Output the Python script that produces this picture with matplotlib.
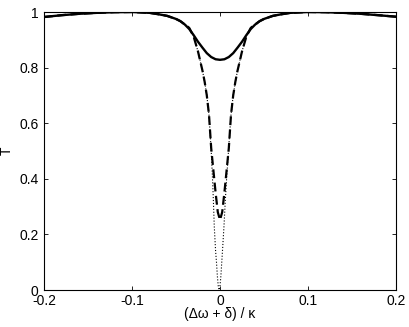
import matplotlib
matplotlib.use("Agg")
import matplotlib.pyplot as plt
from matplotlib.ticker import FormatStrFormatter

# detuning values (units of kappa) and transmission
x_solid = [-0.2, -0.18, -0.16, -0.14, -0.12, -0.10, -0.08, -0.07, -0.06, -0.05,
           -0.045, -0.04, -0.035, -0.03, -0.025, -0.02, -0.015, -0.01, -0.005, 0.0,
           0.005, 0.01, 0.015, 0.02, 0.025, 0.03, 0.035, 0.04, 0.045, 0.05,
           0.06, 0.07, 0.08, 0.10, 0.12, 0.14, 0.16, 0.18, 0.2]
T_solid = [0.982, 0.9885, 0.9935, 0.997, 0.9993, 1.0, 0.997, 0.992, 0.986, 0.975,
           0.967, 0.955, 0.939, 0.917, 0.893, 0.872, 0.852, 0.838, 0.830, 0.828,
           0.830, 0.838, 0.852, 0.872, 0.893, 0.917, 0.939, 0.955, 0.967, 0.975,
           0.986, 0.992, 0.997, 1.0, 0.9993, 0.997, 0.9935, 0.9885, 0.983]

x_dash = [-0.2, -0.18, -0.16, -0.14, -0.12, -0.10, -0.08, -0.07, -0.06, -0.05,
          -0.045, -0.04, -0.035, -0.03, -0.025, -0.02, -0.0175, -0.015, -0.0125,
          -0.01, -0.0075, -0.005, -0.0025, 0.0, 0.0025, 0.005, 0.0075, 0.01,
          0.0125, 0.015, 0.0175, 0.02, 0.025, 0.03, 0.035, 0.04, 0.045, 0.05,
          0.06, 0.07, 0.08, 0.10, 0.12, 0.14, 0.16, 0.18, 0.2]
T_dash = [0.982, 0.9885, 0.9935, 0.997, 0.9993, 1.0, 0.997, 0.992, 0.986, 0.975,
          0.967, 0.955, 0.943, 0.912, 0.858, 0.79, 0.75, 0.70, 0.63,
          0.51, 0.43, 0.35, 0.28, 0.252, 0.28, 0.35, 0.43, 0.51,
          0.63, 0.70, 0.75, 0.79, 0.858, 0.912, 0.943, 0.955, 0.967, 0.975,
          0.986, 0.992, 0.997, 1.0, 0.9993, 0.997, 0.9935, 0.9885, 0.983]

x_dot = [-0.2, -0.18, -0.16, -0.14, -0.12, -0.10, -0.08, -0.07, -0.06, -0.05,
         -0.045, -0.04, -0.035, -0.03, -0.025, -0.02, -0.0175, -0.015, -0.0125,
         -0.01, -0.0085, -0.0075, -0.0065, -0.005, -0.004, -0.003, -0.002, -0.001,
         0.0, 0.001, 0.002, 0.003, 0.0045, 0.006, 0.0075, 0.009, 0.0105,
         0.0125, 0.015, 0.0175, 0.02, 0.025, 0.03, 0.035, 0.04, 0.045, 0.05,
         0.06, 0.07, 0.08, 0.10, 0.12, 0.14, 0.16, 0.18, 0.2]
T_dot = [0.982, 0.9885, 0.9935, 0.997, 0.9993, 1.0, 0.997, 0.992, 0.986, 0.975,
         0.967, 0.955, 0.943, 0.912, 0.858, 0.79, 0.75, 0.70, 0.63,
         0.50, 0.40, 0.32, 0.228, 0.14, 0.10, 0.05, 0.015, 0.0,
         0.015, 0.05, 0.10, 0.15, 0.228, 0.32, 0.40, 0.47, 0.54,
         0.63, 0.70, 0.75, 0.79, 0.858, 0.912, 0.943, 0.955, 0.967, 0.975,
         0.986, 0.992, 0.997, 1.0, 0.9993, 0.997, 0.9935, 0.9885, 0.983]

plt.rcParams['font.family'] = ['Liberation Sans', 'DejaVu Sans']
plt.rcParams['font.size'] = 10

fig = plt.figure(figsize=(4.10, 3.27), dpi=100)
ax = fig.add_axes([44 / 410, 37 / 327, 352 / 410, 278 / 327])

ax.plot(x_dot, T_dot, color='black', linestyle=':', linewidth=0.8)
ax.plot(x_dash, T_dash, color='black', linestyle='--', linewidth=1.6, dashes=(4, 2))
ax.plot(x_solid, T_solid, color='black', linestyle='-', linewidth=1.7)

ax.set_xlim(-0.2, 0.2)
ax.set_ylim(0, 1)
ax.set_xticks([-0.2, -0.1, 0, 0.1, 0.2])
ax.set_yticks([0, 0.2, 0.4, 0.6, 0.8, 1])
ax.xaxis.set_major_formatter(FormatStrFormatter('%g'))
ax.yaxis.set_major_formatter(FormatStrFormatter('%g'))
ax.tick_params(direction='in', top=True, right=True, length=3, width=0.6, pad=4)
ax.tick_params(axis='x', pad=3)
for s in ax.spines.values():
    s.set_linewidth(0.8)

ax.set_xlabel('(Δω + δ) / κ', labelpad=-1)
ax.set_ylabel('T', labelpad=4)

fig.savefig('out.png', dpi=100)
